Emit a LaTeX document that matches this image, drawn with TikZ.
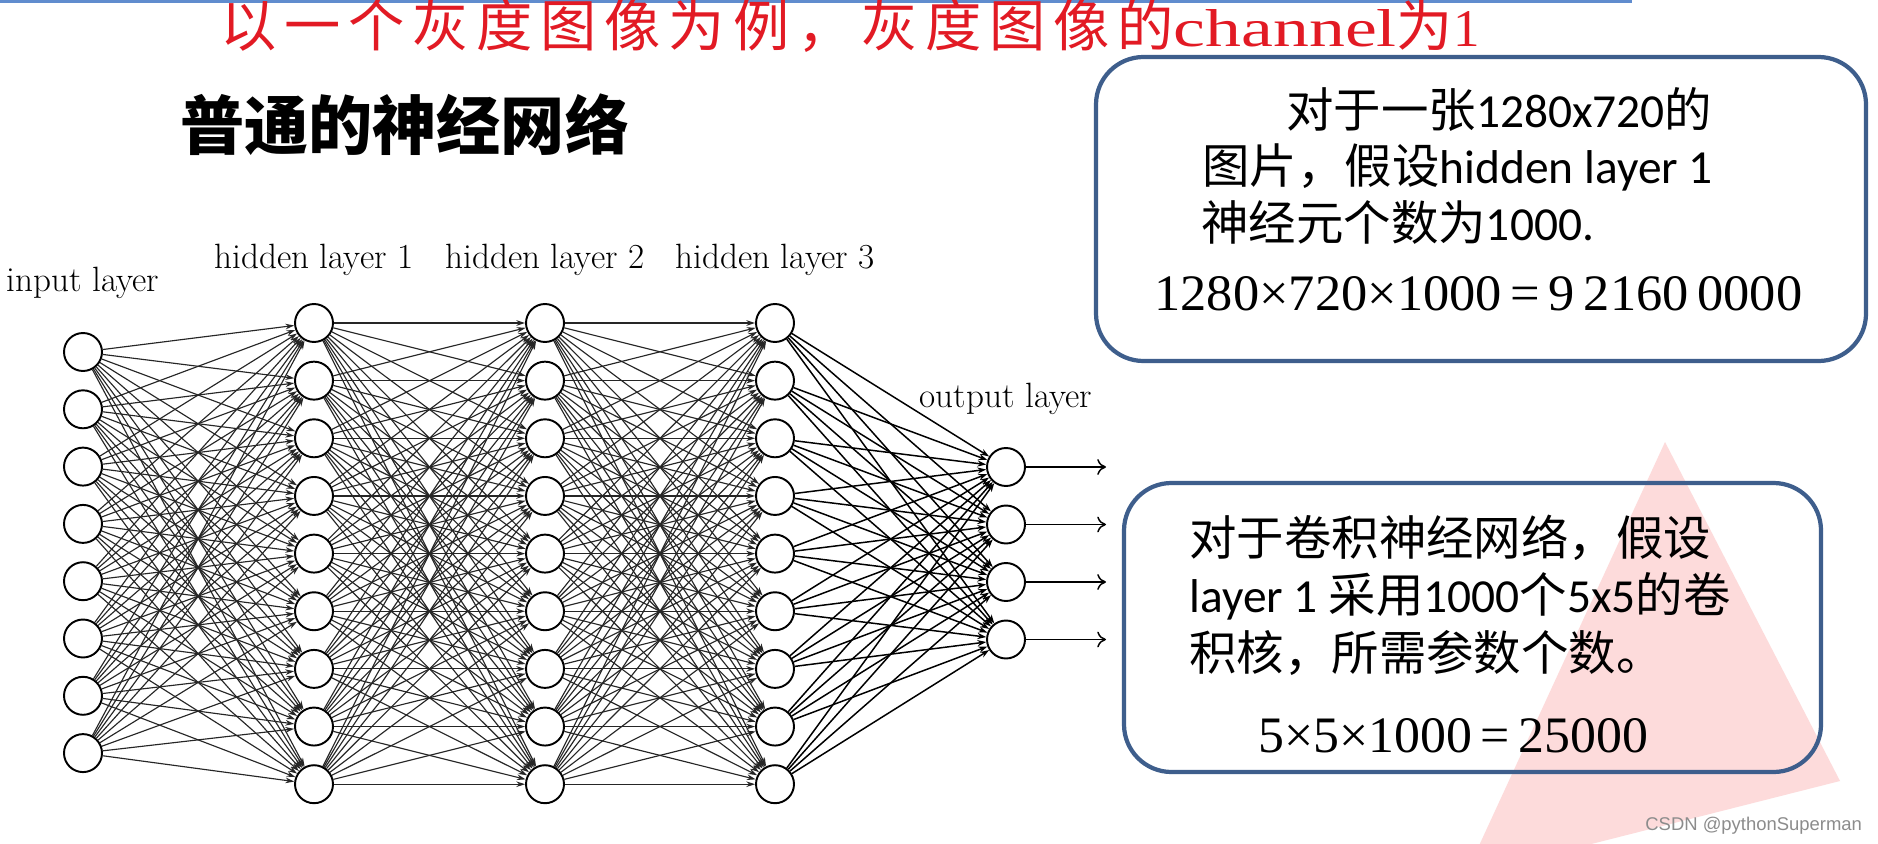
\documentclass[tikz,border=0pt]{standalone}
\usepackage{fontspec}
\usepackage{graphicx}
\usetikzlibrary{arrows.meta, positioning, backgrounds}
\newfontfamily\kaifont[LetterSpace=14]{Noto Sans CJK SC}
\newfontfamily\songfont{Noto Sans CJK SC}
\newfontfamily\heifont{Noto Sans CJK SC}
\newfontfamily\calfont{Carlito}
\newfontfamily\timesfont{Liberation Serif}
\newfontfamily\markfont{Liberation Sans}
\definecolor{titlered}{RGB}{226, 26, 36}
\definecolor{boxblue}{RGB}{62, 94, 140}
\definecolor{topblue}{RGB}{96, 140, 206}
\definecolor{trianglepink}{RGB}{253, 219, 219}

\begin{document}
\begin{tikzpicture}[x=0.02cm, y=-0.02cm,
    neuron/.style={circle, draw, line width=1.1pt, fill=white, minimum size=0.76cm, inner sep=0pt},
    link/.style={draw=black!85, line width=0.65pt, -{Stealth[length=5pt, width=3.2pt]}},
    outlink/.style={draw=black, line width=0.85pt, -{Stealth[length=5pt, width=3.5pt]}},
    layerlabel/.style={font=\fontsize{20}{22}\selectfont},
    infobox/.style={draw=boxblue, line width=2.4pt, rounded corners=0.95cm},
    boxtext/.style={anchor=base west, inner sep=0pt, font=\fontsize{27}{30}\selectfont}]
    \useasboundingbox (0,0) rectangle (1878,844);

    % Background and the pink triangle
    \begin{scope}[on background layer]
        \fill[white] (0,0) rectangle (1878,844);
        \clip (0,0) rectangle (1878,844);
        \fill[trianglepink] (1665,442) -- (1840,781) -- (1465,876) -- cycle;
    \end{scope}
    \draw[topblue, line width=1.7pt] (0,1.5) -- (1632,1.5);

    % Headings
    \node[anchor=base west, inner sep=0pt, text=titlered] (heading) at (220,47)
        {\fontsize{32}{34}\selectfont\kaifont 以一个灰度图像为例，灰度图像的\resizebox{4.46cm}{0.74cm}{\timesfont channel}为\resizebox{!}{0.7cm}{\timesfont 1}};
    \node[anchor=base west, inner sep=0pt] (subtitle) at (180,150)
        {\fontsize{36.5}{40}\selectfont\heifont\bfseries 普通的神经网络};

    % Draw neurons
    \foreach \i in {1,...,8}
        \node[neuron] (in\i) at (83, {352 + (\i-1)*57.3}) {};
    \foreach \l/\x in {a/314, b/545, c/775}
        \foreach \i in {1,...,9}
            \node[neuron] (h\l\i) at (\x, {323 + (\i-1)*57.65}) {};
    \foreach \i in {1,...,4}
        \node[neuron] (out\i) at (1006, {467 + (\i-1)*57.5}) {};

    % Layer names
    \node[layerlabel] (inlabel) at (83,283) {input layer};
    \node[layerlabel] (halabel) at (314,260) {hidden layer 1};
    \node[layerlabel] (hblabel) at (545,260) {hidden layer 2};
    \node[layerlabel] (hclabel) at (775,260) {hidden layer 3};
    \node[layerlabel] (outlabel) at (1006,399) {output layer};

    % Connections
    \begin{scope}[on background layer]
        \foreach \i in {1,...,8}
            \foreach \j in {1,...,9}
                \draw[link] (in\i) -- (ha\j);
        \foreach \i in {1,...,9}
            \foreach \j in {1,...,9} {
                \draw[link] (ha\i) -- (hb\j);
                \draw[link] (hb\i) -- (hc\j);
            }
        \foreach \i in {1,...,9}
            \foreach \j in {1,...,4}
                \draw[outlink] (hc\i) -- (out\j);
    \end{scope}

    % Outputs
    \foreach \i in {1,...,4} {
        \coordinate (res\i) at (1106, {467 + (\i-1)*57.5});
        \draw[line width=0.85pt, -{To[length=5pt, width=9pt]}] (out\i) -- (res\i);
    }

    % Fully connected case
    \draw[infobox] (1096,57) rectangle (1866,361);
    \node[boxtext] (fcline1) at (1286,128)
        {\songfont 对于一张\calfont 1280x720\songfont 的};
    \node[boxtext] (fcline2) at (1202,184)
        {\songfont 图片，假设\calfont hidden layer 1};
    \node[boxtext] (fcline3) at (1201,241)
        {\songfont 神经元个数为\calfont 1000.};
    \node[boxtext] (fcline4) at (1154,310)
        {\resizebox{12.96cm}{0.68cm}{\timesfont 1280×720×1000\,=\,9\,2160\,0000}};

    % Convolution case
    \draw[infobox] (1124,483) rectangle (1821,772);
    \node[boxtext] (cvline1) at (1189,555)
        {\songfont 对于卷积神经网络，假设};
    \node[boxtext] (cvline2) at (1189,612)
        {\calfont layer 1 \songfont 采用\calfont 1000\songfont 个\calfont 5x5\songfont 的卷};
    \node[boxtext] (cvline3) at (1189,670)
        {\songfont 积核，所需参数个数。};
    \node[boxtext] (cvline4) at (1258,752)
        {\resizebox{7.8cm}{0.68cm}{\timesfont 5×5×1000\,=\,25000}};

    % Watermark
    \node[anchor=west, inner sep=0pt, text=black!45, font=\markfont\fontsize{10.5}{12}\selectfont] (watermark) at (1645,826) {CSDN @pythonSuperman};
\end{tikzpicture}
\end{document}
